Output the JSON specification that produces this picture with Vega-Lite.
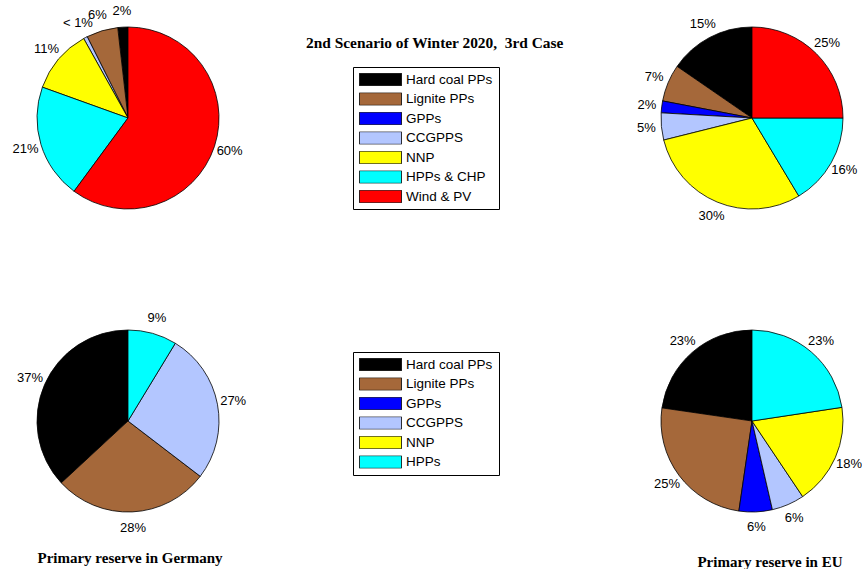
{
  "$schema": "https://vega.github.io/schema/vega-lite/v6.json",
  "padding": 0,
  "background": "white",
  "config": {
    "view": {"stroke": null},
    "arc": {"stroke": "black", "strokeWidth": 0.8},
    "text": {"font": "Liberation Sans", "fontSize": 13, "color": "black"},
    "legend": {
      "title": null,
      "symbolType": "M-1,-0.3H1V0.3H-1Z",
      "symbolSize": 1764,
      "symbolStrokeColor": "black",
      "symbolStrokeWidth": 0.8,
      "clipHeight": 13,
      "rowPadding": 5.5,
      "labelFont": "Liberation Sans",
      "labelFontSize": 13.5,
      "labelColor": "black",
      "labelOffset": 4,
      "labelLimit": 300,
      "strokeColor": "black",
      "fillColor": "white",
      "padding": 6,
      "orient": "none"
    }
  },
  "title": {
    "text": "2nd Scenario of Winter 2020,\u00a0 3rd Case",
    "font": "Liberation Serif",
    "fontSize": 15.4,
    "fontWeight": "bold",
    "color": "black",
    "anchor": "start",
    "frame": "group",
    "offset": -51,
    "dx": 306
  },
  "datasets": {
    "tl": [
      {"source": "Hard coal PPs", "idx": 1, "value": 1.8, "label": "2%"},
      {"source": "Lignite PPs", "idx": 2, "value": 5.6, "label": "6%"},
      {"source": "GPPs", "idx": 3, "value": 0, "label": ""},
      {"source": "CCGPPS", "idx": 4, "value": 0.7, "label": "< 1%"},
      {"source": "NNP", "idx": 5, "value": 11.4, "label": "11%"},
      {"source": "HPPs & CHP", "idx": 6, "value": 20.4, "label": "21%"},
      {"source": "Wind & PV", "idx": 7, "value": 60.1, "label": "60%"}
    ],
    "tr": [
      {"source": "Hard coal PPs", "idx": 1, "value": 15.4, "label": "15%"},
      {"source": "Lignite PPs", "idx": 2, "value": 6.6, "label": "7%"},
      {"source": "GPPs", "idx": 3, "value": 2.1, "label": "2%"},
      {"source": "CCGPPS", "idx": 4, "value": 4.8, "label": "5%"},
      {"source": "NNP", "idx": 5, "value": 29.7, "label": "30%"},
      {"source": "HPPs & CHP", "idx": 6, "value": 16.4, "label": "16%"},
      {"source": "Wind & PV", "idx": 7, "value": 25.0, "label": "25%"}
    ],
    "bl": [
      {"source": "Hard coal PPs", "idx": 1, "value": 36.9, "label": "37%"},
      {"source": "Lignite PPs", "idx": 2, "value": 27.7, "label": "28%"},
      {"source": "GPPs", "idx": 3, "value": 0, "label": ""},
      {"source": "CCGPPS", "idx": 4, "value": 26.7, "label": "27%"},
      {"source": "NNP", "idx": 5, "value": 0, "label": ""},
      {"source": "HPPs", "idx": 6, "value": 8.7, "label": "9%"}
    ],
    "br": [
      {"source": "Hard coal PPs", "idx": 1, "value": 22.7, "label": "23%"},
      {"source": "Lignite PPs", "idx": 2, "value": 25.0, "label": "25%"},
      {"source": "GPPs", "idx": 3, "value": 5.9, "label": "6%"},
      {"source": "CCGPPS", "idx": 4, "value": 5.8, "label": "6%"},
      {"source": "NNP", "idx": 5, "value": 18.0, "label": "18%"},
      {"source": "HPPs", "idx": 6, "value": 22.6, "label": "23%"}
    ]
  },
  "columns": 2,
  "bounds": "flush",
  "align": "each",
  "spacing": {"row": 67, "column": 386},
  "resolve": {
    "scale": {"color": "independent", "theta": "independent"},
    "legend": {"color": "independent"}
  },
  "concat": [
    {
      "width": 256,
      "height": 236,
      "data": {"name": "tl"},
      "transform": [{"filter": "datum.value > 0"}],
      "encoding": {
        "theta": {"field": "value", "type": "quantitative", "stack": true},
        "order": {"field": "idx", "type": "quantitative", "sort": "descending"}
      },
      "layer": [
        {
          "mark": {"type": "arc", "radius": 91},
          "encoding": {
            "color": {
              "field": "source",
              "type": "nominal",
              "scale": {
                "domain": ["Hard coal PPs", "Lignite PPs", "GPPs", "CCGPPS", "NNP", "HPPs & CHP", "Wind & PV"],
                "range": ["#000000", "#A5683A", "#0000FF", "#B3C6FF", "#FFFF00", "#00FFFF", "#FF0000"]
              },
              "legend": {"orient": "none", "legendX": 353, "legendY": 67}
            }
          }
        },
        {
          "mark": {"type": "text", "radius": 107},
          "encoding": {"text": {"field": "label"}, "detail": {"field": "source"}}
        }
      ]
    },
    {
      "width": 220,
      "height": 236,
      "data": {"name": "tr"},
      "transform": [{"filter": "datum.value > 0"}],
      "encoding": {
        "theta": {"field": "value", "type": "quantitative", "stack": true},
        "order": {"field": "idx", "type": "quantitative", "sort": "descending"}
      },
      "layer": [
        {
          "mark": {"type": "arc", "radius": 91},
          "encoding": {
            "color": {
              "field": "source",
              "type": "nominal",
              "scale": {
                "domain": ["Hard coal PPs", "Lignite PPs", "GPPs", "CCGPPS", "NNP", "HPPs & CHP", "Wind & PV"],
                "range": ["#000000", "#A5683A", "#0000FF", "#B3C6FF", "#FFFF00", "#00FFFF", "#FF0000"]
              },
              "legend": null
            }
          }
        },
        {
          "mark": {"type": "text", "radius": 106},
          "encoding": {"text": {"field": "label"}, "detail": {"field": "source"}}
        }
      ]
    },
    {
      "width": 256,
      "height": 236,
      "data": {"name": "bl"},
      "transform": [{"filter": "datum.value > 0"}],
      "title": {
        "text": "Primary reserve in Germany",
        "orient": "bottom",
        "font": "Liberation Serif",
        "fontSize": 15,
        "fontWeight": "bold",
        "color": "black",
        "anchor": "middle",
        "offset": 12,
        "dx": 2
      },
      "encoding": {
        "theta": {"field": "value", "type": "quantitative", "stack": true},
        "order": {"field": "idx", "type": "quantitative", "sort": "descending"}
      },
      "layer": [
        {
          "mark": {"type": "arc", "radius": 91},
          "encoding": {
            "color": {
              "field": "source",
              "type": "nominal",
              "scale": {
                "domain": ["Hard coal PPs", "Lignite PPs", "GPPs", "CCGPPS", "NNP", "HPPs"],
                "range": ["#000000", "#A5683A", "#0000FF", "#B3C6FF", "#FFFF00", "#00FFFF"]
              },
              "legend": {"orient": "none", "legendX": 353, "legendY": 49}
            }
          }
        },
        {
          "mark": {"type": "text", "radius": 107},
          "encoding": {"text": {"field": "label"}, "detail": {"field": "source"}}
        }
      ]
    },
    {
      "width": 220,
      "height": 236,
      "data": {"name": "br"},
      "transform": [{"filter": "datum.value > 0"}],
      "title": {
        "text": "Primary reserve in EU",
        "orient": "bottom",
        "font": "Liberation Serif",
        "fontSize": 15,
        "fontWeight": "bold",
        "color": "black",
        "anchor": "middle",
        "offset": 16,
        "dx": 18
      },
      "encoding": {
        "theta": {"field": "value", "type": "quantitative", "stack": true},
        "order": {"field": "idx", "type": "quantitative", "sort": "descending"}
      },
      "layer": [
        {
          "mark": {"type": "arc", "radius": 91},
          "encoding": {
            "color": {
              "field": "source",
              "type": "nominal",
              "scale": {
                "domain": ["Hard coal PPs", "Lignite PPs", "GPPs", "CCGPPS", "NNP", "HPPs"],
                "range": ["#000000", "#A5683A", "#0000FF", "#B3C6FF", "#FFFF00", "#00FFFF"]
              },
              "legend": null
            }
          }
        },
        {
          "mark": {"type": "text", "radius": 106},
          "encoding": {"text": {"field": "label"}, "detail": {"field": "source"}}
        }
      ]
    }
  ]
}
